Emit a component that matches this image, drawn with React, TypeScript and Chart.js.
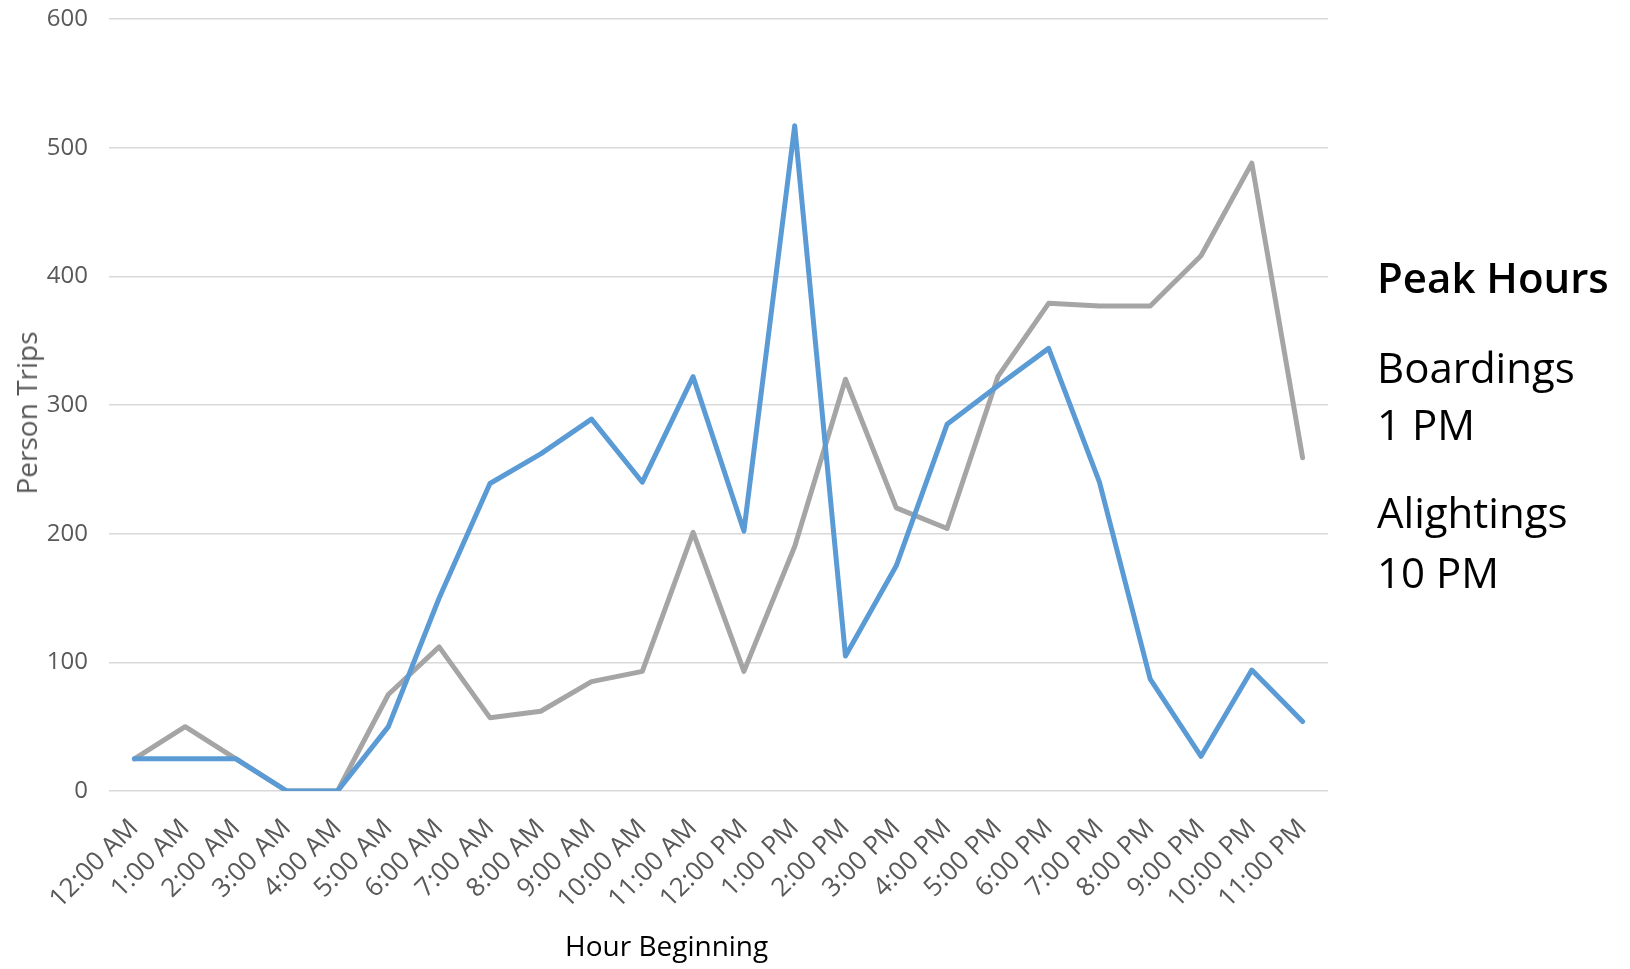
import React, { useEffect, useRef } from "react";
import { Chart, registerables } from "chart.js";

Chart.register(...registerables);

// Hour-beginning categories along the x axis
const hours = [
  "12:00 AM", "1:00 AM", "2:00 AM", "3:00 AM", "4:00 AM", "5:00 AM",
  "6:00 AM", "7:00 AM", "8:00 AM", "9:00 AM", "10:00 AM", "11:00 AM",
  "12:00 PM", "1:00 PM", "2:00 PM", "3:00 PM", "4:00 PM", "5:00 PM",
  "6:00 PM", "7:00 PM", "8:00 PM", "9:00 PM", "10:00 PM", "11:00 PM",
];

// Person trips per hour
const boardings = [
  25, 25, 25, 0, 0, 50, 150, 239, 262, 289, 240, 322,
  202, 517, 105, 175, 285, 315, 344, 240, 87, 27, 94, 54,
];
const alightings = [
  25, 50, 25, 0, 0, 75, 112, 57, 62, 85, 93, 201,
  93, 190, 320, 220, 204, 322, 379, 377, 377, 416, 488, 259,
];

// Value axis range
const yMin = 0;
const yMax = 600;
const yStep = 100;

// Side notes
const noteTitle = "Peak Hours";
const noteLines = [
  { text: "Boardings", baseline: 383 },
  { text: "1 PM", baseline: 440 },
  { text: "Alightings", baseline: 528 },
  { text: "10 PM", baseline: 588 },
];

const W = 1630;
const H = 969;
const AREA_LEFT = 109;
const AREA_RIGHT = 1328;
const AREA_TOP = 19;
const AREA_BOTTOM = 791;

const NOTE_FONT = "'Open Sans', sans-serif";
const AXIS_FONT = "'Open Sans', sans-serif";

export default function App() {
  const canvasRef = useRef<HTMLCanvasElement | null>(null);

  useEffect(() => {
    document.body.style.margin = "0";
    const canvas = canvasRef.current;
    if (!canvas) return;
    const chart = new Chart(canvas, {
      type: "line",
      data: {
        labels: hours,
        datasets: [
          {
            label: "Boardings",
            data: boardings,
            borderColor: "#5B9BD5",
            backgroundColor: "#5B9BD5",
            borderWidth: 5,
            pointRadius: 0,
            tension: 0,
            borderJoinStyle: "round",
            borderCapStyle: "round",
          },
          {
            label: "Alightings",
            data: alightings,
            borderColor: "#A5A5A5",
            backgroundColor: "#A5A5A5",
            borderWidth: 5,
            pointRadius: 0,
            tension: 0,
            borderJoinStyle: "round",
            borderCapStyle: "round",
          },
        ],
      },
      options: {
        responsive: false,
        animation: false,
        devicePixelRatio: 1,
        layout: {
          padding: { top: AREA_TOP, right: W - AREA_RIGHT, left: 0, bottom: 0 },
        },
        plugins: {
          legend: { display: false },
          tooltip: { enabled: false },
        },
        scales: {
          x: {
            offset: true,
            grid: { display: false, drawTicks: false },
            border: { display: false },
            ticks: {
              autoSkip: false,
              minRotation: 45,
              maxRotation: 45,
              padding: 22,
              color: "#595959",
              font: { family: AXIS_FONT, size: 26 },
            },
            afterFit: (scale: any) => {
              scale.height = H - AREA_BOTTOM;
            },
          },
          y: {
            min: yMin,
            max: yMax,
            grid: { color: "#D9D9D9", lineWidth: 1.5, drawTicks: false },
            border: { display: false },
            ticks: {
              stepSize: yStep,
              padding: 21,
              color: "#595959",
              font: { family: AXIS_FONT, size: 24 },
            },
            afterFit: (scale: any) => {
              scale.width = AREA_LEFT;
              // tick labels only need half a line above the top gridline
              scale.paddingTop = 14;
              scale.paddingBottom = 14;
            },
          },
        },
      },
    });
    return () => chart.destroy();
  }, []);

  const baselineTop = (baseline: number, size: number) => baseline - size * 0.888;

  return (
    <div style={{ position: "absolute", left: 0, top: 0, width: W, height: H, background: "#fff" }}>
      <canvas ref={canvasRef} width={W} height={H} style={{ position: "absolute", left: 0, top: 0 }} />
      {/* value axis title, rotated to read bottom-to-top */}
      <div
        style={{
          position: "absolute",
          left: 26,
          top: 413,
          transform: "translate(-50%, -50%) rotate(-90deg)",
          fontFamily: AXIS_FONT,
          fontSize: 28,
          lineHeight: "34px",
          color: "#595959",
          whiteSpace: "nowrap",
        }}
      >
        Person Trips
      </div>
      <div
        style={{
          position: "absolute",
          left: 565,
          top: baselineTop(956, 28),
          fontFamily: NOTE_FONT,
          fontSize: 28,
          lineHeight: "28px",
          color: "#000",
          whiteSpace: "nowrap",
        }}
      >
        Hour Beginning
      </div>
      <div
        style={{
          position: "absolute",
          left: 1377,
          top: baselineTop(293, 42),
          fontFamily: NOTE_FONT,
          fontSize: 42,
          fontWeight: 600,
          lineHeight: "42px",
          color: "#000",
          whiteSpace: "nowrap",
        }}
      >
        {noteTitle}
      </div>
      {noteLines.map((l) => (
        <div
          key={l.text}
          style={{
            position: "absolute",
            left: 1377,
            top: baselineTop(l.baseline, 42),
            fontFamily: NOTE_FONT,
            fontSize: 42,
            lineHeight: "42px",
            color: "#000",
            whiteSpace: "nowrap",
          }}
        >
          {l.text}
        </div>
      ))}
    </div>
  );
}
